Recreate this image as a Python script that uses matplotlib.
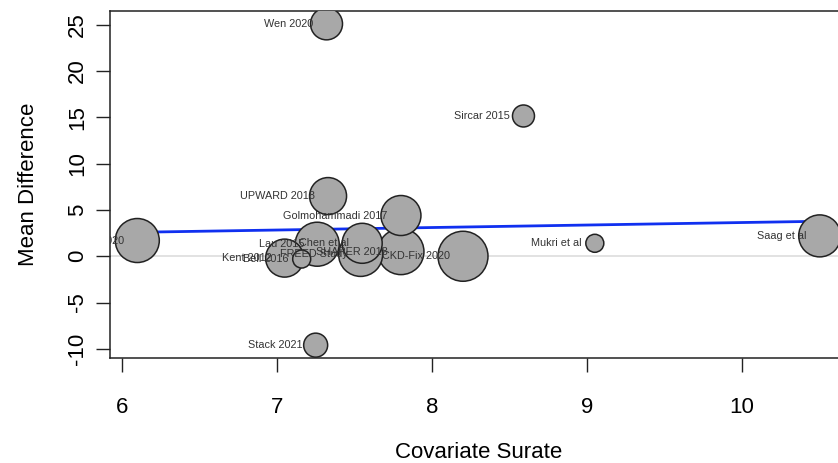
import matplotlib
matplotlib.use("Agg")
import matplotlib.pyplot as plt
import numpy as np

plt.rcParams['font.family'] = ['Liberation Sans', 'DejaVu Sans']
plt.rcParams['axes.unicode_minus'] = False

# study labels, covariate value, mean difference and weight (bubble size)
studies = ["Wen 2020", "Sircar 2015", "UPWARD 2018", "Golmohammadi 2017",
           "Lau 2015", "Chen et al", "Kent 2012", "Bell 2016",
           "FREED Study", "SHAPER 2018", "CKD-Fix 2020", "Mukri et al",
           "Saag et al", "Stack 2021", "Tian 2020"]
surate = [7.32, 8.59, 7.33, 7.80, 7.26, 7.55, 7.05, 7.16,
          7.54, 7.80, 8.20, 9.05, 10.50, 7.25, 6.10]
mean_diff = [25.1, 15.15, 6.5, 4.4, 1.3, 1.4, -0.2, -0.3,
             0.2, 0.5, 0.0, 1.4, 2.2, -9.6, 1.7]
weight = [16, 11, 18.5, 20, 22, 20, 19, 9,
          22, 23, 25, 9, 21, 12, 22]

# meta-regression fit
intercept = 2.59
slope = 0.27

x = np.array(surate)
y = np.array(mean_diff)
w = np.array(weight)

fig = plt.figure(figsize=(8.38, 4.63), dpi=100)
ax = fig.add_axes([110 / 838, 1 - 358 / 463, 737 / 838, 347 / 463])

# R style axis range: data range plus 4% each side
xpad = (x.max() - x.min()) * 0.04
ypad = (y.max() - y.min()) * 0.04
ax.set_xlim(x.min() - xpad, x.max() + xpad)
ax.set_ylim(y.min() - ypad, y.max() + ypad)

ax.axhline(0, color='#dddddd', lw=1.2, zorder=1)
xs = np.array([x.min(), x.max()])
ax.plot(xs, intercept + slope * (xs - x.min()), color='#1030f0', lw=2, zorder=2)

order = np.argsort(-w)
ax.scatter(x[order], y[order], s=(1.44 * w[order]) ** 2, facecolor='#a8a8a8',
           edgecolor='#222222', linewidth=1.1, zorder=3)

for name, xi, yi in zip(studies, x, y):
    ax.annotate(name, (xi, yi), xytext=(-9.5, 0), textcoords='offset points',
                ha='right', va='center', fontsize=7.8, color='#333333',
                annotation_clip=False, clip_on=True, zorder=4)

ax.set_xticks([6, 7, 8, 9, 10])
ax.set_yticks([-10, -5, 0, 5, 10, 15, 20, 25])
ax.tick_params(axis='both', direction='out', length=10, width=1, labelsize=16,
               color='#222222')
ax.tick_params(axis='x', pad=18)
ax.tick_params(axis='y', pad=6, labelrotation=90)
for lab in ax.get_yticklabels():
    lab.set_va('center')

for sp in ax.spines.values():
    sp.set_color('#222222')
    sp.set_linewidth(1.1)

ax.set_xlabel("Covariate Surate", fontsize=16, labelpad=17)
ax.set_ylabel("Mean Difference", fontsize=16, labelpad=20)

fig.savefig("out.png", dpi=100)
